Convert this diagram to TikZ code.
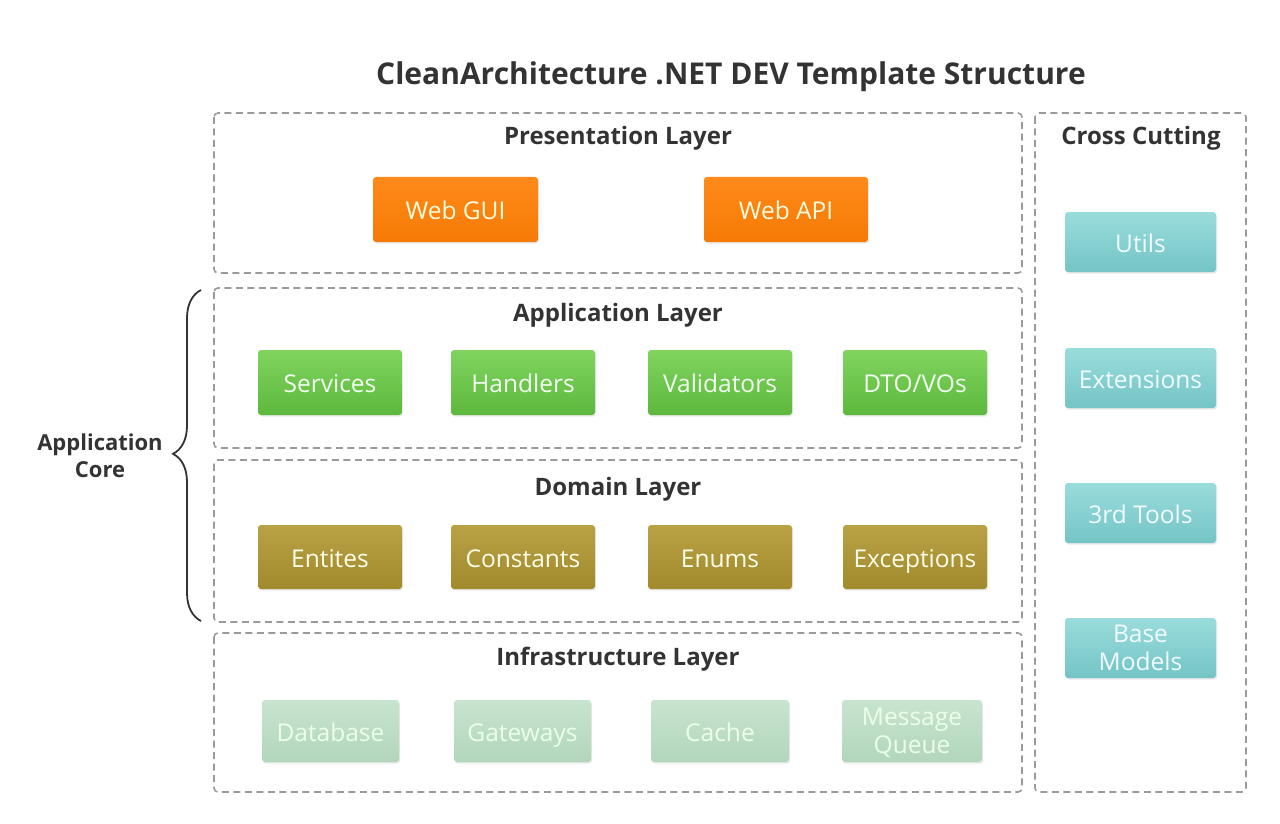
\documentclass[tikz,border=0pt]{standalone}
\usepackage{fontspec}
\setmainfont{Open Sans}
\usetikzlibrary{decorations.pathreplacing,shadows}
\definecolor{dashc}{HTML}{9A9A9A}
\definecolor{titc}{HTML}{333333}
\definecolor{orT}{HTML}{FF8A1A}\definecolor{orB}{HTML}{F57A05}
\definecolor{grT}{HTML}{80D45E}\definecolor{grB}{HTML}{5DB83D}
\definecolor{olT}{HTML}{B8A245}\definecolor{olB}{HTML}{A08A2C}
\definecolor{inT}{HTML}{C8E4CF}\definecolor{inB}{HTML}{B2D6BC}
\definecolor{cyT}{HTML}{9ADCDC}\definecolor{cyB}{HTML}{74C4C6}
\tikzset{
  x=1pt,y=-1pt,
  layerbox/.style={draw=dashc,line width=1.6pt,dash pattern=on 7pt off 4.5pt,rounded corners=4pt},
  laytitle/.style={font=\fontsize{24}{28}\selectfont\bfseries,text=titc,anchor=center},
  item/.style={rounded corners=3pt,draw=none,font=\fontsize{24.5}{28}\selectfont,align=center,
    drop shadow={shadow xshift=1pt,shadow yshift=-1.5pt,opacity=0.18}},
  one/.style={text height=20.5pt,text depth=0pt},
  orbox/.style={item,top color=orT,bottom color=orB,text=white!88!yellow},
  grbox/.style={item,top color=grT,bottom color=grB,text=white!95!green},
  olbox/.style={item,top color=olT,bottom color=olB,text=white!92!yellow},
  inbox/.style={item,top color=inT,bottom color=inB,text=white!92!green},
  cybox/.style={item,top color=cyT,bottom color=cyB,text=white!95!cyan},
}
\newcommand{\itm}[7]{\node[#1,minimum width=#4-#3,minimum height=#6-#5,inner sep=0pt] (#2) at ({(#3+#4)/2},{(#5+#6)/2}) {#7};}
\begin{document}
\begin{tikzpicture}
\useasboundingbox[fill=white] (0,0) rectangle (1280,824);
\node[font=\fontsize{30}{34}\selectfont\bfseries,text=titc] (title) at (731,77) {CleanArchitecture .NET DEV Template Structure};
% layers
\draw[layerbox] (214,113) rectangle (1022,273);
\node[laytitle] (pt) at (618,138.5) {Presentation Layer};
\draw[layerbox] (214,288) rectangle (1022,448);
\node[laytitle] (at) at (618,315) {Application Layer};
\draw[layerbox] (214,460) rectangle (1022,622);
\node[laytitle] (dt) at (618,489) {Domain Layer};
\draw[layerbox] (214,633) rectangle (1022,792);
\node[laytitle] (it) at (618,659) {Infrastructure Layer};
\draw[layerbox] (1035,113) rectangle (1246,792);
\node[laytitle] (ct) at (1141,138.5) {Cross Cutting};
% presentation
\itm{orbox,one}{webgui}{373}{538}{177}{242}{Web GUI}
\itm{orbox,one}{webapi}{704}{868}{177}{242}{Web API}
% application
\itm{grbox,one}{services}{258}{402}{350}{415}{Services}
\itm{grbox,one}{handlers}{451}{595}{350}{415}{Handlers}
\itm{grbox,one}{validators}{648}{792}{350}{415}{Validators}
\itm{grbox,one}{dto}{843}{987}{350}{415}{DTO/VOs}
% domain
\itm{olbox,one}{entites}{258}{402}{525}{589}{Entites}
\itm{olbox,one}{constants}{451}{595}{525}{589}{Constants}
\itm{olbox,one}{enums}{648}{792}{525}{589}{Enums}
\itm{olbox,one}{exceptions}{843}{987}{525}{589}{Exceptions}
% infrastructure
\itm{inbox,one}{database}{262}{399}{700}{762}{Database}
\itm{inbox,one}{gateways}{454}{591}{700}{762}{Gateways}
\itm{inbox,one}{cache}{651}{789}{700}{762}{Cache}
\itm{inbox}{mq}{842}{982}{700}{762}{\fontsize{24.5}{28}\selectfont Message\\\raisebox{0pt}[18pt][1pt]{Queue}}
% cross cutting
\itm{cybox,one}{utils}{1065}{1216}{212}{272}{Utils}
\itm{cybox,one}{ext}{1065}{1216}{348}{408}{Extensions}
\itm{cybox,one}{tools}{1065}{1216}{483}{543}{3rd Tools}
\itm{cybox}{base}{1065}{1216}{618}{678}{\fontsize{24.5}{27}\selectfont Base\\Models}
% brace
\coordinate (bt) at (201,290);
\coordinate (bb) at (201,621);
\draw[line width=1.8pt,titc,decorate,decoration={brace,amplitude=28pt,aspect=0.505}] (bb) -- (bt);
\node[font=\fontsize{22}{27}\selectfont\bfseries,text=titc,align=center] (core) at (100,456) {Application\\Core};
\end{tikzpicture}
\end{document}
